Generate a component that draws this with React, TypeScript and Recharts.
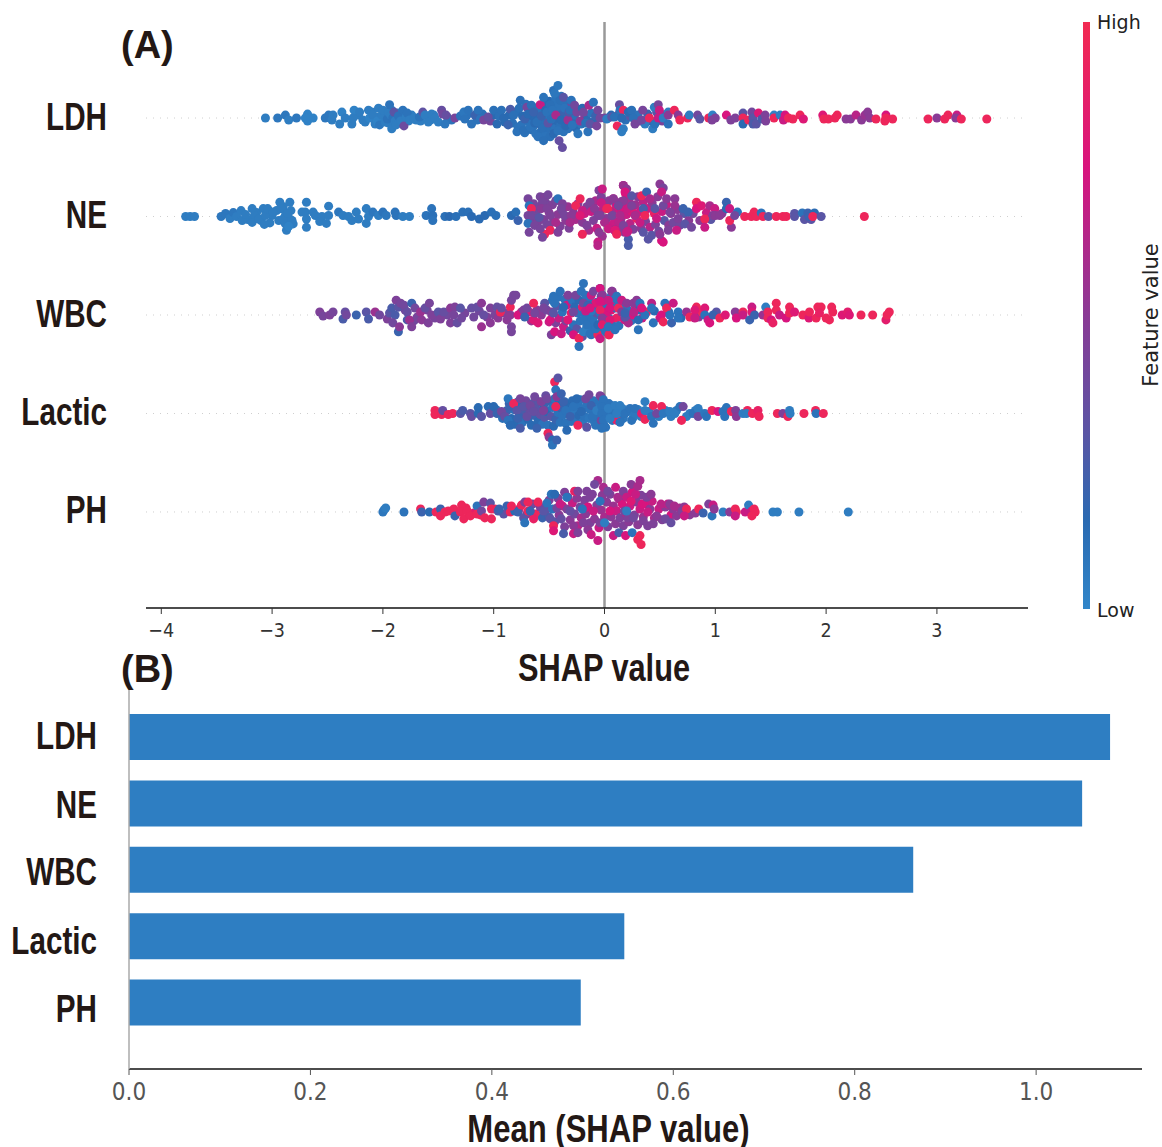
import { Bar, BarChart, Cell, ReferenceLine, Scatter, ScatterChart, XAxis, YAxis, ZAxis } from "recharts";

type Dot = [number, number, number]; // shap value, swarm offset (in rows), feature value 0..1

const features = ["LDH", "NE", "WBC", "Lactic", "PH"];
const meanShap = [1.0815, 1.0507, 0.8645, 0.546, 0.498];
const shapTicks = [-4, -3, -2, -1, 0, 1, 2, 3];
const meanTicks = [0, 0.2, 0.4, 0.6, 0.8, 1.0];

// the dense middle of each swarm, drawn first
const ldhCore: Dot[] = [
  [-2.22,.03,.05],[-2.16,-.04,.05],[-2.1,.06,.05],[-2.06,.01,.05],[-2.02,-.02,.02],[-1.99,.06,.05],[-1.97,.02,.05],[-1.95,-.05,.05],[-1.92,.08,.05],[-1.9,-.06,.05],[-1.87,.05,.05],[-1.85,.0,.05],[-1.83,-.05,.05],[-1.8,.04,.05],[-1.77,-.03,.05],[-1.74,.03,.05],
  [-1.7,-.02,.05],[-1.66,-.03,.05],[-1.6,.02,.05],[-1.57,-.02,.05],[-1.54,.03,.05],[-1.42,.01,.3],[-1.38,-.02,.1],[-1.24,.03,.1],[-1.15,-.02,.1],[-1.1,.04,.12],[-1.03,-.03,.4],[-.99,.03,.15],[-.9,-.04,.15],[-.86,.03,.15],[-.83,-.05,.12],[-.8,.06,.12],
  [-.78,-.09,.1],[-.77,.1,.12],[-.74,.02,.15],[-.72,-.15,.1],[-.71,.14,.1],[-.69,-.03,.1],[-.68,.07,.15],[-.66,-.12,.12],[-.65,.02,.15],[-.64,-.08,.1],[-.62,.1,.12],[-.62,-.16,.1],[-.6,.03,.15],[-.59,.12,.1],[-.58,-.06,.2],[-.57,-.13,.12],
  [-.56,.07,.1],[-.54,.16,.12],[-.54,-.03,.12],[-.53,-.17,.1],[-.52,.11,.15],[-.51,-.1,.12],[-.5,.02,.1],[-.5,.17,.15],[-.49,-.19,.12],[-.48,.08,.1],[-.47,-.06,.15],[-.46,.14,.1],[-.45,-.11,.1],[-.44,.2,.1],[-.43,.05,.12],[-.42,-.03,.15],
  [-.41,.12,.1],[-.4,-.08,.12],[-.39,.22,.1],[-.38,.04,.2],[-.37,-.14,.1],[-.36,.15,.12],[-.35,-.02,.1],[-.34,.09,.15],[-.33,-.11,.1],[-.31,.02,.3],[-.3,.12,.4],[-.29,-.04,.15],[-.27,.03,.12],[-.26,-.1,.15],[-.23,.08,.12],[-.21,-.06,.1],[-.18,.03,.45],[-.16,-.02,.15],[-.12,.05,.1],[-.09,-.03,.15],
  [.06,.03,.15],[.12,.03,.3],[.19,-.02,.12],[.23,.02,.3],[.3,.03,.1],[.32,-.03,.5],[.39,.04,.2],[.42,-.03,.2],[.47,.06,.3],[.52,-.03,.45],[.55,.03,.4],
];

const neCore: Dot[] = [
  [-3.22,-.03,.05],[-3.14,.04,.05],[-3.1,-.04,.05],[-3,.01,.05],[-2.96,.06,.05],[-2.94,-.04,.05],[-2.9,.1,.05],[-2.87,.03,.05],[-2.82,-.04,.05],[-2.86,-.06,.05],
  [-.67,-.03,.42],[-.64,.13,.42],[-.62,.05,.4],[-.6,-.05,.45],[-.58,.1,.42],[-.55,-.03,.45],[-.53,.14,.42],[-.52,-.08,.42],[-.5,.04,.5],[-.47,.12,.45],[-.46,-.05,.45],[-.44,.16,.42],[-.42,.02,.5],[-.4,-.1,.45],[-.38,.06,.42],[-.35,-.04,.5],[-.33,.1,.55],[-.32,-.12,.45],
  [-.28,.04,.5],[-.26,-.03,.6],[-.24,.13,.5],[-.2,-.06,.5],[-.18,.03,.7],[-.16,.1,.45],[-.14,-.14,.6],[-.12,.05,.7],[-.1,-.04,.45],[-.08,.16,.6],[-.07,-.12,.7],[-.04,.05,.6],[-.02,-.2,.55],[0,.1,.65],[.02,-.02,.5],[.04,.16,.5],[.05,-.1,.7],[.07,.05,.6],
  [.09,-.05,.7],[.1,.13,.4],[.12,-.12,.6],[.14,.06,.7],[.15,-.02,.55],[.17,.1,.75],[.18,-.16,.5],[.2,.02,.7],[.22,.16,.6],[.23,-.07,.65],[.25,.05,.8],[.26,-.13,.45],[.28,.12,.55],[.29,-.02,.9],[.3,.2,.5],[.32,.05,.7],[.33,-.12,.5],[.35,.15,.65],[.37,-.05,.45],[.39,.08,.7],
  [.41,-.11,.65],[.43,.14,.5],[.45,.03,.9],[.46,-.08,.45],[.48,.2,.5],[.49,-.15,.4],[.52,.05,.7],[.54,-.04,.3],[.56,.12,.7],[.58,-.09,.5],[.6,.03,.5],[.62,-.06,.4],[.66,.07,.5],[.68,-.09,.4],[.72,.03,.3],[.76,-.04,.5],[.8,.03,.4],[.86,-.04,.5],[.92,.04,.7],[.96,-.03,.3],[1.06,.03,.5],
];

const wbcCore: Dot[] = [
  [-1.8,.05,.4],[-1.72,-.06,.4],[-1.6,.05,.42],[-1.53,-.03,.42],[-1.42,0,.4],[-1.26,.02,.42],[-1.13,.04,.4],[-1.06,-.02,.45],[-.99,0,.42],[-.9,.02,.45],[-.88,-.05,.5],[-.75,.03,.6],[-.68,.03,.8],[-.66,-.06,.55],[-.61,.05,.5],[-.57,0,.5],[-.52,.05,.4],[-.5,-.07,.7],
  [-.48,.03,.45],[-.47,.15,.1],[-.44,-.08,.45],[-.43,.09,.3],[-.41,-.03,.7],[-.42,.18,.1],[-.38,.03,.1],[-.37,-.12,.7],[-.36,.16,.1],[-.35,-.06,.45],[-.34,.1,.7],[-.31,-.16,.2],[-.3,.02,.85],[-.29,.15,.1],[-.28,-.1,.1],[-.27,.08,.15],[-.25,-.14,.3],[-.24,.02,.1],[-.23,.15,.15],
  [-.22,-.06,.1],[-.2,.08,.85],[-.2,-.22,.3],[-.18,.02,.1],[-.17,.2,.1],[-.16,-.13,.05],[-.15,-.03,.1],[-.14,.14,.1],[-.12,-.2,.1],[-.12,.2,.7],[-.11,.08,.15],[-.1,-.12,.1],[-.09,-.01,.1],[-.07,.13,.1],[-.05,-.16,.1],[-.05,.05,.1],[-.03,-.08,.05],[-.02,.2,.1],[0,.06,.1],[.01,-.14,.1],[.03,.14,.85],[.04,-.03,.1],[.06,.19,.1],[.07,-.1,.1],
  [.09,.1,.7],[.11,-.03,.9],[.12,.15,.1],[.13,-.11,.1],[.16,.07,.1],[.18,-.05,.7],[.21,.05,.1],[.24,-.06,.1],[.28,.08,.8],[.31,.05,.15],[.34,-.03,.7],[.38,.03,.95],[.45,.04,.15],[.5,-.03,.7],[.58,.03,.1],[.69,-.03,.15],[.85,-.02,.5],[.88,.03,.95],
];

const lacticCore: Dot[] = [
  [-.98,.04,.1],[-.92,-.05,.12],[-.88,.03,.2],[-.86,.1,.2],[-.84,-.05,.15],[-.82,.04,.12],[-.81,-.11,.15],[-.78,.12,.25],[-.77,-.02,.2],[-.75,.07,.15],[-.74,-.09,.1],[-.72,.03,.25],[-.71,.13,.4],[-.69,-.06,.15],[-.68,.05,.35],[-.66,-.12,.15],[-.65,.1,.3],[-.63,-.02,.2],[-.62,.05,.3],[-.6,-.08,.15],[-.59,.12,.3],[-.58,-.01,.35],
  [-.56,-.11,.1],[-.55,.08,.2],[-.54,-.04,.3],[-.53,.18,.35],[-.52,.02,.15],[-.51,-.12,.1],[-.49,.12,.2],[-.48,-.03,.3],[-.47,.06,.1],[-.46,-.13,.15],[-.45,.15,.1],[-.44,-.06,.2],[-.42,.01,.1],[-.41,.1,.15],[-.4,-.09,.1],[-.39,.05,.2],[-.38,-.02,.1],[-.36,.12,.1],[-.35,-.1,.1],[-.33,.07,.15],[-.32,.02,.1],[-.3,-.08,.1],[-.29,.13,.15],[-.27,.01,.08],
  [-.26,-.06,.1],[-.24,.09,.1],[-.23,-.02,.15],[-.22,.14,.1],[-.2,-.09,.08],[-.19,.05,.1],[-.18,-.03,.1],[-.16,.11,.1],[-.14,-.05,.08],[-.13,.04,.1],[-.1,.13,.1],[-.09,-.09,.1],[-.06,.06,.08],[-.05,-.03,.1],[-.02,.1,.08],[-.01,-.1,.1],[.02,.03,.05],[.03,-.04,.08],[.06,.08,.1],[.07,-.07,.08],[.1,.03,.05],[.12,-.03,.08],[.16,.05,.05],[.17,-.05,.08],[.21,.02,.08],[.26,-.04,.05],
  [.3,.04,.05],[.33,-.03,.05],[.4,.02,.05],[.49,-.03,.05],[.55,.03,.05],[.6,-.03,.05],[.65,.03,.08],[.74,-.03,.05],[.82,.03,.05],[.87,0,.05],
];

const phCore: Dot[] = [
  [-1.25,.04,.95],[-1.18,-.01,.85],[-1.12,-.03,.95],[-.99,.03,.95],[-.91,-.02,.3],[-.87,.01,.4],[-.77,.03,.85],[-.7,-.02,.45],[-.65,.08,.4],[-.62,-.02,.95],[-.58,.05,.45],[-.56,-.06,.2],[-.53,.02,.4],[-.5,.12,.45],[-.5,-.05,.25],[-.47,.03,.1],[-.45,-.1,.3],[-.42,.14,.45],[-.41,-.03,.5],[-.38,.06,.7],
  [-.36,-.15,.45],[-.34,.03,.45],[-.33,.15,.4],[-.31,-.08,.5],[-.29,.09,.7],[-.27,-.02,.4],[-.25,.14,.5],[-.24,-.14,.65],[-.22,.05,.4],[-.21,-.06,.6],[-.18,.12,.45],[-.17,-.02,.5],[-.15,.05,.75],[-.13,-.11,.45],[-.11,.18,.45],[-.09,-.07,.5],[-.07,.07,.45],[-.05,-.16,.7],[-.03,.02,.55],[-.02,.17,.5],
  [0,-.05,.6],[.02,.1,.5],[.03,-.15,.45],[.05,.18,.45],[.06,-.05,.5],[.08,.06,.55],[.1,-.12,.5],[.11,.01,.7],[.13,.13,.6],[.14,-.06,.45],[.16,.08,.75],[.17,-.14,.45],[.19,.16,.45],[.2,-.02,.7],[.22,-.1,.5],[.23,.06,.7],[.25,.2,.75],[.27,-.03,.45],[.29,.1,.5],[.3,-.13,.5],[.32,.03,.7],[.33,.17,.45],[.35,-.05,.55],[.37,.08,.75],[.39,-.14,.45],[.41,.03,.5],[.43,.11,.7],[.45,-.06,.6],
  [.49,.03,.7],[.52,-.08,.45],[.55,.05,.5],[.6,-.03,.75],[.62,.03,.5],[.68,.04,.6],[.72,.05,.5],[.77,-.03,.5],
];

const ldhDots: Dot[] = [
  [-3.06,0,.05],[-2.95,0,.08],[-2.88,.03,.08],[-2.85,-.02,.05],[-2.78,0,.08],[-2.68,.04,.02],[-2.68,-.03,.02],[-2.63,0,.02],[-2.66,0,.02],[-2.7,0,.02],
  [-2.52,0,.08],[-2.49,.03,.08],[-2.45,.03,.05],[-2.46,-.02,.05],[-2.39,-.06,.05],[-2.37,.06,.02],[-2.34,0,.05],[-2.28,-.06,.05],[-2.26,.08,.02],[-2.27,0,.05],
  [-2.21,.06,.05],[-2.18,-.02,.05],[-2.13,.08,.05],[-2.12,0,.02],[-2.09,.03,.05],[-2.07,-.06,.05],[-2.05,-.03,.02],[-2.04,.1,.05],[-2.03,-.07,.08],[-2.01,.03,.05],[-2,.08,.05],
  [-1.98,-.04,.05],[-1.96,-.01,.1],[-1.95,.06,.05],[-1.94,.135,.1],[-1.93,.03,.05],[-1.92,-.11,.05],[-1.91,0,.1],[-1.9,.06,.3],[-1.89,-.03,.05],[-1.88,-.07,.05],[-1.86,.02,.1],[-1.84,-.03,.05],
  [-1.82,.08,.1],[-1.81,-.08,.38],[-1.79,.01,.05],[-1.78,.05,.1],[-1.76,-.02,.05],[-1.72,0,.05],[-1.67,.01,.1],[-1.64,.06,.32],[-1.62,.03,.05],[-1.59,-.04,.05],[-1.56,.04,.05],[-1.53,0,.05],[-1.5,-.04,.05],
  [-1.47,.08,.35],[-1.46,.04,.4],[-1.43,.03,.35],[-1.44,-.06,.08],[-1.35,0,.42],[-1.3,.02,.1],[-1.27,.06,.08],[-1.26,-.01,.1],[-1.23,.08,.1],[-1.2,-.06,.1],[-1.17,.03,.2],[-1.14,.08,.1],[-1.12,-.01,.1],
  [-1.09,-.02,.42],[-1.05,.01,.35],[-1,.08,.12],[-.97,-.06,.15],[-.95,.02,.12],[-.93,.08,.12],[-.91,0,.15],[-.87,-.07,.2],[-.85,.09,.25],[-.82,.03,.12],
  [-.79,-.14,.1],[-.76,.18,.12],[-.75,-.07,.1],[-.73,-.125,.12],[-.72,-.01,.2],[-.7,.11,.4],[-.69,.04,.15],[-.67,-.09,.1],[-.66,.13,.12],[-.64,.06,.2],[-.63,-.05,.15],[-.61,-.04,.12],[-.6,-.19,.1],
  [-.58,.135,.7],[-.57,.02,.2],[-.56,-.1,.12],[-.55,.21,.1],[-.55,-.23,.12],[-.53,.08,.15],[-.52,.06,.1],[-.51,-.05,.3],[-.49,.135,.12],[-.48,-.01,.12],[-.47,.08,.1],[-.46,.28,.12],[-.46,-.16,.15],
  [-.45,.25,.08],[-.44,.03,.6],[-.42,.33,.08],[-.42,-.13,.1],[-.41,-.23,.35],[-.4,.18,.12],[-.39,-.02,.15],[-.38,-.3,.35],[-.37,.21,.3],[-.36,.1,.1],[-.35,-.08,.15],[-.33,-.02,.55],[-.32,.06,.25],
  [-.3,.18,.1],[-.31,.08,.12],[-.29,-.07,.1],[-.27,.13,.4],[-.25,.06,.42],[-.24,-.16,.08],[-.22,-.03,.5],[-.2,.1,.15],[-.19,.06,.4],[-.17,-.05,.12],[-.15,-.14,.1],[-.14,.13,.6],[-.13,-.06,.3],[-.1,.16,.1],[-.08,.02,.2],
  [-.07,-.08,.42],[-.06,.08,.4],[-.04,0,.4],[.03,0,.1],[0,0,.42],[.02,-.01,.05],[.065,.01,.3],[.09,.01,.12],[.115,-.08,.95],[.135,.135,.35],[.14,.08,.1],[.17,.08,.95],[.17,-.11,.05],[.155,-.14,.05],[.155,0,.15],
  [.215,.06,.15],[.245,.08,.12],[.26,0,.12],[.275,-.06,.42],[.345,.08,.42],[.365,-.06,.05],[.335,-.02,.4],[.405,0,.95],[.45,.11,.05],[.485,.135,.42],[.495,.08,.7],[.435,-.11,.05],[.455,-.06,.1],[.485,0,.7],
  [.53,0,.05],[.575,.06,.05],[.575,-.06,.1],[.575,.03,.5],[.63,.08,.95],[.665,.03,.5],[.68,-.02,.95],[.75,0,.95],[.765,.03,.05],[.84,.03,.4],[.86,-.01,.3],[.94,0,.95],[.975,.03,.02],[1,0,.45],[.97,-.02,.45],
  [1.1,.03,.75],[1.14,-.02,.45],[1.18,0,.45],[1.25,.05,.3],[1.25,0,.95],[1.25,-.06,.15],[1.3,-.02,.95],[1.33,.06,.4],[1.34,0,.3],[1.34,-.06,.25],[1.37,-.06,.3],[1.39,.05,.8],[1.42,-.01,.25],[1.45,.03,.45],[1.455,-.03,.45],
  [1.53,.03,.02],[1.53,0,.95],[1.585,.03,.05],[1.615,-.02,.7],[1.63,.03,.75],[1.66,0,.95],[1.7,-.01,.95],[1.765,.03,.95],[1.795,-.01,.8],[1.97,.03,.8],[1.98,-.01,.95],[2.02,-.01,.95],[2.08,0,.95],[2.1,.03,.95],
  [2.18,-.01,.5],[2.22,-.01,.5],[2.27,.03,.65],[2.32,-.02,.5],[2.35,.03,.55],[2.375,.06,.5],[2.395,0,.5],[2.45,-.01,.95],[2.54,.03,.75],[2.54,0,.95],[2.53,-.03,.95],[2.6,-.01,.95],[2.92,-.01,.95],[3,0,.5],[3.07,-.01,.95],[3.1,.03,.95],[3.18,.03,.7],[3.17,0,.5],[3.22,-.01,.95],[3.45,-.01,.95],
];

const neDots: Dot[] = [
  [-3.78,0,.05],[-3.74,0,.05],[-3.7,0,.05],[-3.46,0,.08],[-3.42,.03,.08],[-3.38,-.02,.05],[-3.35,.04,.08],[-3.32,0,.05],[-3.28,.06,.05],[-3.27,-.04,.05],[-3.24,.02,.05],
  [-3.18,.08,.05],[-3.16,.01,.05],[-3.18,-.06,.05],[-3.12,-.025,.05],[-3.08,.08,.05],[-3.06,.01,.05],[-3.04,.08,.05],[-3.02,-.065,.05],[-2.99,.045,.05],[-3.07,-.08,.05],
  [-2.93,.145,.05],[-2.92,.08,.05],[-2.88,.01,.05],[-2.88,-.075,.05],[-2.87,-.14,.05],[-2.84,.145,.05],[-2.83,.06,.05],[-2.84,-.025,.05],[-2.81,-.075,.05],[-2.9,-.025,.05],[-2.86,.03,.05],[-2.85,-.1,.02],
  [-2.69,.145,.05],[-2.7,.045,.05],[-2.73,.045,.05],[-2.69,-.025,.05],[-2.69,-.11,.05],[-2.63,.045,.05],[-2.61,.01,.05],[-2.55,0,.05],[-2.57,-.05,.05],[-2.49,.105,.05],[-2.49,.01,.05],[-2.51,-.07,.05],
  [-2.4,.045,.08],[-2.36,.01,.05],[-2.31,0,.05],[-2.28,-.04,.05],[-2.24,.045,.05],[-2.22,-.025,.05],[-2.15,.08,.05],[-2.13,0,.05],[-2.15,-.07,.05],[-2.09,.045,.08],[-2.04,.01,.05],[-2,.045,.1],[-1.97,.01,.08],[-1.89,.045,.1],[-1.88,.01,.1],[-1.82,0,.05],[-1.76,0,.05],
  [-1.61,.01,.1],[-1.56,.08,.1],[-1.55,.01,.12],[-1.55,-.04,.1],[-1.44,0,.12],[-1.4,0,.15],[-1.34,0,.12],[-1.28,.045,.12],[-1.23,.045,.12],[-1.2,0,.15],[-1.13,-.025,.15],[-1.08,.01,.15],[-1.02,.045,.12],[-.98,.01,.12],[-.84,.01,.15],[-.8,.045,.12],[-.78,-.04,.2],
  [-.69,.18,.42],[-.68,.11,.1],[-.66,.08,.95],[-.69,.01,.42],[-.65,.01,.4],[-.69,-.07,.1],[-.68,-.16,.42],[-.63,-.09,.42],[-.58,.2,.42],[-.54,.195,.45],[-.51,.22,.42],[-.56,.145,.42],[-.57,.08,.5],[-.52,.08,.45],[-.49,.01,.45],[-.59,-.01,.3],[-.5,-.09,.42],
  [-.44,-.06,.6],[-.42,.18,.1],[-.38,.13,.45],[-.39,.08,.42],[-.36,.01,.42],[-.54,-.18,.95],[-.49,-.14,.95],[-.56,-.21,.42],[-.58,-.125,.42],[-.42,-.16,.45],[-.3,.01,.5],[-.31,-.06,.6],
  [-.22,.18,.95],[-.26,.11,.95],[-.2,.06,.7],[-.22,.01,.8],[-.16,-.09,.45],[-.2,-.18,.95],[-.13,.145,.45],[-.05,.265,.45],[-.03,.195,.45],[-.09,.08,.5],[-.06,.01,.45],[.03,.08,.95],[0,-.06,.6],[-.05,-.16,.5],[-.06,-.26,.7],[-.06,-.295,.65],
  [.08,.18,.7],[.11,.11,.75],[.07,.01,.42],[.13,-.06,.65],[.09,-.14,.45],[.17,.315,.7],[.19,.23,.75],[.15,.15,.5],[.21,.08,.7],[.17,-.09,.45],[.21,-.15,.7],[-.02,.28,.7],
  [-.03,.14,.7],[-.04,.01,.45],[.02,.08,.95],[.035,-.125,.7],[.095,-.14,.8],[.11,-.18,.95],[.08,.18,.5],[.17,.315,.55],[.2,.28,.5],[.185,.25,.75],[.17,.16,.5],[.125,.11,.42],[.14,.01,.6],
  [.215,-.23,.25],[.215,-.295,.25],[.2,-.16,.7],[.245,.21,.3],[.245,.11,.45],[.275,.01,.6],[.335,.21,.95],[.35,.08,.25],[.32,-.06,.7],[.35,-.16,.3],[.395,-.23,.3],[.425,-.19,.3],[.38,.25,.2],[.41,.18,.6],[.455,.08,.3],[.365,.01,.95],[.47,-.02,.7],
  [.515,-.245,.75],[.53,-.26,.75],[.5,.33,.5],[.53,.29,.42],[.515,.25,.7],[.53,.11,.4],[.5,-.18,.5],[.575,-.14,.45],[.56,.18,.5],[.635,.18,.5],[.635,.11,.55],[.59,.045,.45],[.665,-.02,.45],[.65,-.14,.7],[.71,.08,.2],[.755,.045,.2],[.725,-.075,.3],[.785,-.11,.4],
  [.83,.145,.95],[.83,.08,.75],[.875,.11,.8],[.905,-.025,.95],[.905,-.11,.7],[.95,.11,.6],[.995,.08,.7],[.98,.01,.45],[1,.01,.5],[1.04,.01,.5],[1.1,.145,.2],[1.1,.08,.15],[1.13,.08,.7],[1.145,-.11,.5],[1.13,-.04,.95],[1.2,.045,.1],[1.175,.01,.4],
  [1.265,0,.95],[1.325,0,.95],[1.35,.045,.95],[1.37,0,.95],[1.415,.035,.1],[1.43,0,.95],[1.48,0,.3],[1.55,0,.95],[1.61,0,.95],[1.64,0,.95],[1.715,.03,.3],[1.715,0,.3],[1.785,.035,.1],[1.805,-.03,.3],[1.835,.035,.2],[1.865,-.03,.3],[1.845,0,.2],[1.895,.035,.15],[1.88,0,.95],[1.955,0,.3],[2.345,0,.95],
];

const wbcDots: Dot[] = [
  [-2.57,.03,.45],[-2.54,-.01,.42],[-2.48,0,.45],[-2.45,.03,.42],[-2.34,.03,.35],[-2.36,-.04,.25],[-2.33,0,.4],[-2.24,0,.2],[-2.15,.03,.3],[-2.13,-.04,.25],[-2.07,.03,.55],[-2.03,0,.4],[-1.96,-.04,.45],[-1.94,.02,.3],[-1.92,.07,.25],[-1.88,.15,.45],[-1.86,.08,.3],
  [-1.89,0,.25],[-1.91,-.08,.4],[-1.86,-.17,.2],[-1.85,-.12,.5],[-1.84,.12,.42],[-1.81,.1,.4],[-1.78,.03,.35],[-1.78,-.05,.25],[-1.74,.12,.2],[-1.76,-.05,.55],[-1.74,-.12,.45],[-1.71,.07,.4],[-1.69,-.02,.42],[-1.66,.03,.55],[-1.65,-.05,.5],[-1.62,.07,.35],[-1.59,-.08,.45],[-1.58,.12,.42],[-1.56,0,.45],
  [-1.5,.03,.3],[-1.48,-.04,.45],[-1.45,.03,.35],[-1.39,.07,.5],[-1.39,-.08,.45],[-1.35,.08,.45],[-1.36,0,.42],[-1.33,-.08,.35],[-1.3,.07,.3],[-1.29,-.03,.4],[-1.2,.07,.35],[-1.18,-.02,.4],[-1.15,.08,.35],[-1.11,.12,.5],[-1.11,-.12,.55],[-1.09,0,.35],
  [-1.03,.07,.45],[-1.03,-.08,.5],[-.97,.08,.35],[-.96,-.03,.5],[-.94,.03,.95],[-.93,.07,.35],[-.85,.08,.95],[-.84,.15,.42],[-.82,.2,.42],[-.8,.2,.42],[-.84,-.12,.42],[-.84,-.17,.42],[-.85,0,.5],[-.78,0,.75],[-.73,.05,.45],[-.7,.07,.4],[-.72,-.02,.2],
  [-.64,.12,.95],[-.64,-.05,.8],[-.6,-.08,.8],[-.63,.02,.42],[-.54,.12,.3],[-.55,.07,.42],[-.48,-.2,.45],[-.49,-.05,.75],[-.45,.12,.1],[-.45,-.17,.75],[-.46,.02,.3],[-.46,.19,.1],[-.39,-.19,.7],[-.4,.24,.1],[-.37,.08,.15],[-.33,.2,.45],[-.33,-.05,.8],[-.28,-.2,.75],[-.28,.03,.4],[-.26,.2,.42],
  [-.23,-.24,.95],[-.23,-.32,.1],[-.19,.32,.1],[-.21,.24,.1],[-.19,.12,.4],[-.19,-.05,.1],[-.19,-.17,.05],[-.13,-.19,.1],[-.1,.24,.42],[-.08,.12,.8],[-.07,.02,.3],[-.06,-.2,.95],[-.04,.27,.1],[-.03,.19,.35],[0,.12,.1],[.03,-.05,.1],[.04,-.2,.95],[.07,.24,.5],[.06,.05,.8],[.1,.17,.1],[.1,.07,.1],[.1,-.13,.1],
  [-.12,.04,.08],[-.1,-.08,.1],[-.08,-.14,.1],[-.15,.1,.2],[-.02,-.03,.1],[-.01,.09,.1],[-.04,.02,.1],[-.06,-.1,.15],[.01,-.08,.05],[-.16,-.1,.1],[-.17,.04,.7],[-.13,.07,.75],[.02,.03,.75],[-.02,.14,.7],
  [-.04,.27,.75],[-.02,.2,.5],[-.04,.14,.75],[-.04,.05,.9],[-.02,-.03,.5],[-.02,-.1,.85],[-.04,-.24,.7],[.01,-.17,.1],[.04,-.2,.95],[.065,.24,.5],[.11,.19,.1],[.035,.15,.7],[.05,.07,.75],[.125,.07,.95],[.05,-.05,.8],[.035,-.12,.1],[.095,-.15,.1],
  [.155,.15,.7],[.2,.12,.5],[.26,.12,.5],[.29,.15,.5],[.32,.12,.1],[.155,.03,.5],[.2,-.03,.1],[.26,0,.75],[.215,-.08,.6],[.185,-.02,.3],[.305,-.05,.15],[.305,-.15,.1],[.185,.02,.2],[.265,.03,.65],[.365,0,.1],[.335,.07,.75],
  [.425,.12,.65],[.425,.07,.1],[.44,-.08,.1],[.515,0,.75],[.545,.12,.1],[.56,.07,.95],[.53,-.07,.95],[.605,-.08,.2],[.62,.12,.7],[.59,0,.1],[.665,.03,.1],[.665,-.03,.1],[.74,.03,.55],[.77,-.02,.95],[.83,.08,.95],[.815,.05,.8],[.815,-.03,.7],[.905,.07,.8],[.905,0,.1],[.935,-.05,.7],[.95,-.08,.75],
  [1.01,.03,.3],[.98,0,.2],[1.04,-.03,.95],[1.09,0,.8],[1.18,.03,.5],[1.19,-.03,.75],[1.25,.03,.95],[1.25,0,.7],[1.33,.08,.7],[1.33,.03,.8],[1.31,-.05,.2],[1.355,0,.2],[1.43,0,.55],[1.455,.08,.05],[1.475,.03,.95],[1.475,-.03,.95],[1.505,-.05,.75],[1.52,-.08,.9],
  [1.55,.12,.95],[1.55,.05,.95],[1.58,0,.7],[1.64,-.03,.75],[1.67,.08,.95],[1.67,.02,.95],[1.715,.03,.8],[1.79,0,.95],[1.845,-.03,.8],[1.85,.03,.95],[1.91,-.03,.95],[1.925,.08,.95],[1.955,.08,.95],[1.94,.02,.9],[2,-.03,.95],[2.03,-.05,.95],[2.05,.08,.95],[2.06,.03,.95],
  [2.145,0,.8],[2.195,.03,.85],[2.21,0,.8],[2.315,0,.95],[2.42,0,.95],[2.54,-.05,.85],[2.55,0,.95],[2.57,.03,.95],
];

const lacticDots: Dot[] = [
  [-1.53,.03,.95],[-1.53,-.01,.95],[-1.47,-.01,.95],[-1.46,.03,.35],[-1.41,-.01,.95],[-1.37,0,.95],[-1.3,0,.3],[-1.28,.03,.25],[-1.21,0,.3],[-1.2,-.03,.35],[-1.14,.06,.15],[-1.14,0,.15],[-1.11,-.03,.3],[-1.05,.07,.15],[-1.03,0,.35],[-1,.07,.15],
  [-.97,0,.2],[-.93,.02,.4],[-.9,-.03,.35],[-.87,.15,.08],[-.85,.07,.2],[-.87,-.07,.1],[-.85,-.12,.15],[-.82,.1,.95],[-.79,.03,.3],[-.78,-.05,.2],[-.76,-.15,.25],[-.76,.15,.42],[-.73,.07,.3],[-.7,-.03,.35],[-.67,.08,.4],[-.63,.17,.4],[-.64,.02,.35],[-.61,-.15,.2],
  [-.57,.12,.45],[-.55,.03,.45],[-.52,.15,.4],[-.51,-.2,.95],[-.5,-.24,.5],[-.47,-.27,.15],[-.47,-.32,.1],[-.43,-.27,.2],[-.45,.32,.95],[-.42,.36,.3],[-.44,.24,.1],[-.44,.07,.95],[-.43,.17,.5],[-.39,.2,.2],[-.37,.12,.2],[-.35,.03,.1],[-.34,-.17,.15],[-.31,-.03,.2],[-.28,.07,.1],[-.25,.15,.15],
  [-.24,-.12,.95],[-.21,.02,.15],[-.17,.15,.4],[-.14,.19,.4],[-.16,-.14,.3],[-.12,.08,.2],[-.11,-.03,.1],[-.08,-.12,.1],[-.07,.03,.05],[-.04,.12,.1],[-.03,-.07,.4],[-.03,.17,.45],[0,.03,.1],[.01,-.14,.1],[.04,.1,.1],[.08,0,.1],[.14,-.07,.1],[.11,-.07,.9],
  [-.04,.18,.45],[-.01,.14,.1],[-.025,.07,.1],[-.025,0,.1],[-.01,-.07,.1],[-.025,-.15,.1],[.035,.05,.05],[.05,-.05,.05],[.095,.08,.05],[.11,0,.05],[.14,.08,.05],[.14,-.09,.1],[.185,0,.1],[.245,-.07,.1],[.23,.05,.1],[.275,0,.08],[.275,.05,.1],
  [.335,0,.85],[.365,.12,.05],[.365,.03,.05],[.365,-.06,.95],[.425,-.03,.1],[.44,.08,.95],[.44,-.1,.1],[.47,0,.4],[.515,.07,.95],[.53,0,.08],[.59,.02,.05],[.635,0,.05],[.68,.07,.1],[.695,-.07,.95],[.71,.07,.4],[.77,0,.05],[.8,0,.1],[.845,.05,.05],[.845,-.03,.4],[.905,0,.08],[.92,-.03,.1],
  [.97,.03,.95],[1.025,.02,.75],[1.07,.02,.1],[1.1,.06,.1],[1.085,-.03,.1],[1.145,.02,.95],[1.184,.03,.45],[1.19,-.03,.5],[1.25,0,.05],[1.29,.03,.95],[1.28,0,.05],[1.335,0,.95],[1.385,.03,.9],[1.395,-.03,.95],[1.56,0,.95],[1.61,0,.45],[1.655,-.03,.95],[1.67,.03,.05],[1.675,0,.05],[1.8,0,.95],[1.905,.03,.95],[1.91,0,.1],[1.975,0,.95],
];

const phDots: Dot[] = [
  [-2,0,.08],[-1.99,.02,.08],[-1.975,.04,.05],[-1.81,0,.1],[-1.66,.03,.95],[-1.65,0,.2],[-1.58,0,.15],[-1.52,0,.95],[-1.48,.03,.2],[-1.48,-.04,.95],[-1.44,0,.95],[-1.41,.01,.95],[-1.36,.03,.95],[-1.35,-.04,.2],[-1.29,.07,.95],[-1.3,0,.95],[-1.27,-.07,.95],[-1.24,.01,.95],[-1.21,-.04,.95],
  [-1.15,.06,.1],[-1.15,-.02,.95],[-1.11,.01,.4],[-1.09,.1,.45],[-1.08,-.06,.95],[-1.03,.09,.3],[-1.02,.03,.95],[-1.02,-.07,.95],[-.96,.01,.25],[-.95,.03,.2],[-.88,.06,.2],[-.85,0,.95],[-.81,.01,.15],[-.84,.06,.95],[-.78,0,.2],[-.75,.07,.95],[-.72,.1,.45],
  [-.73,-.06,.3],[-.72,-.11,.1],[-.69,.1,.95],[-.69,.01,.95],[-.64,-.07,.9],[-.67,.01,.2],[-.6,.1,.95],[-.55,.01,.3],[-.52,.09,.1],[-.49,-.07,.3],[-.48,.18,.1],[-.46,-.14,.95],[-.45,.18,.15],[-.46,-.19,.8],[-.43,.04,.4],[-.4,.08,.7],[-.39,-.07,.35],[-.36,.2,.45],
  [-.37,-.22,.25],[-.34,.15,.1],[-.31,.01,.35],[-.28,-.14,.5],[-.28,-.22,.7],[-.27,.21,.9],[-.24,.21,.45],[-.24,-.21,.45],[-.2,.03,.1],[-.19,-.11,.45],[-.16,.21,.45],[-.13,.15,.45],[-.15,-.18,.5],[-.1,.01,.7],[-.12,-.23,.7],[-.06,-.29,.7],[-.06,.32,.6],[-.09,.28,.4],
  [-.04,-.11,.45],[-.04,.11,.1],[0,-.11,.05],[-.01,.25,.6],[.03,.21,.4],[.05,.01,.75],[.08,-.24,.7],[.1,.25,.7],[.12,.15,.6],[.13,-.21,.25],[.17,.21,.45],[.18,.01,.4],[.19,-.24,.75],[.2,.15,.7],[.21,-.06,.45],[.24,.28,.5],[.24,.11,.8],[.25,-.21,.1],
  [.2,.01,.05],[.3,-.28,.95],[.28,.18,.7],[.26,-.06,.4],[.33,-.33,.95],[.32,.32,.6],[.3,.26,.6],[.32,-.24,.95],[.34,.08,.75],[.35,-.09,.45],[.38,.15,.45],[.39,0,.7],[.42,.18,.5],[.44,-.12,.45],[.47,-.04,.5],[.51,.08,.65],
  [.55,-.07,.4],[.57,.08,.65],[.59,.08,.5],[.6,-.11,.35],[.63,.06,.6],[.65,-.04,.5],[.7,.01,.45],[.74,.03,.95],[.72,-.04,.7],[.82,-.01,.5],[.85,.03,.95],[.89,-.01,.2],[.94,.08,.45],[.97,-.04,.1],[.98,.07,.7],[.99,.03,.5],
  [1.07,0,.05],[1.13,0,.5],[1.18,.03,.95],[1.19,0,.95],[1.18,-.04,.7],[1.27,0,.7],[1.3,.07,.05],[1.33,.01,.7],[1.35,.03,.95],[1.36,0,.95],[1.33,-.04,.95],[1.52,0,.05],[1.56,0,.05],[1.755,0,.05],[2.2,0,.05],
];

const rows: Dot[][] = [
  [...phCore, ...phDots],
  [...lacticCore, ...lacticDots],
  [...wbcCore, ...wbcDots],
  [...neCore, ...neDots],
  [...ldhCore, ...ldhDots],
];

const colorStops: [number, number[]][] = [
  [0, [49, 134, 201]],
  [0.15, [42, 106, 178]],
  [0.3, [90, 85, 165]],
  [0.5, [138, 58, 149]],
  [0.75, [216, 20, 126]],
  [1, [242, 42, 82]],
];

function featureColor(t: number) {
  for (let i = 1; i < colorStops.length; i++) {
    const [t1, c1] = colorStops[i];
    const [t0, c0] = colorStops[i - 1];
    if (t <= t1) {
      const k = (t - t0) / (t1 - t0);
      const c = c0.map((v, j) => Math.round(v + (c1[j] - v) * k));
      return `rgb(${c.join(",")})`;
    }
  }
  return "rgb(242,42,82)";
}

const boldFont = "'Liberation Sans', sans-serif";
const tickFont = "'DejaVu Sans', sans-serif";
const ink = "#231815";

// the reference labels are a narrow bold face, so squeeze the bold sans
function NarrowLabel({ x, y, text, anchor = "end", scale = 0.78 }: { x: number; y: number; text: string; anchor?: string; scale?: number }) {
  return (
    <text transform={`translate(${x},${y}) scale(${scale},1)`} textAnchor={anchor} fontFamily={boldFont} fontWeight={700} fontSize={38} fill={ink}>
      {text}
    </text>
  );
}

// baseline drop under each bar centre in panel B
const barLabelDrop = [12, 14, 15, 18, 19];

const absText = (left: number, top: number, text: string, style: React.CSSProperties) => (
  <div style={{ position: "absolute", left, top, whiteSpace: "nowrap", lineHeight: 1, ...style }}>{text}</div>
);

export default function App() {
  return (
    <div style={{ position: "absolute", left: 0, top: 0, width: 1162, height: 1147, background: "#fff", overflow: "hidden" }}>
      <div style={{ position: "absolute", left: 0, top: 0 }}>
        <ScatterChart width={1162} height={690} margin={{ top: 22, right: 134, bottom: 0, left: 0 }}>
          <XAxis
            type="number"
            dataKey="x"
            domain={[-4.138, 3.822]}
            ticks={shapTicks}
            allowDataOverflow
            height={82}
            tickSize={6}
            tickMargin={9}
            interval={0}
            tickFormatter={(v: number) => String(v).replace("-", "\u2212")}
            axisLine={{ stroke: "#111", strokeWidth: 1.5 }}
            tickLine={{ stroke: "#333" }}
            tick={{ fontFamily: tickFont, fontSize: 19.5, fill: "#333", style: { fontStretch: "condensed" } }}
          />
          <YAxis
            type="number"
            dataKey="y"
            domain={[-0.975, 4.975]}
            ticks={[0, 1, 2, 3, 4]}
            width={146}
            axisLine={false}
            tickLine={false}
            tickSize={0}
            tickMargin={39}
            interval={0}
            tick={(p: any) => <NarrowLabel x={p.x} y={p.y + 11.5} text={features[4 - p.payload.value]} />}
          />
          <ZAxis range={[50, 50]} />
          {[0, 1, 2, 3, 4].map((r) => (
            <ReferenceLine key={r} y={r} stroke="#cfcfcf" strokeDasharray="1 6" />
          ))}
          {rows.map((dots, r) => (
            <Scatter
              key={features[4 - r]}
              isAnimationActive={false}
              data={dots.map(([x, off, f]) => ({ x, y: r + off, f }))}
            >
              {dots.map((d, i) => (
                <Cell key={i} fill={featureColor(d[2])} />
              ))}
            </Scatter>
          ))}
          <ReferenceLine x={0} stroke="#999" strokeWidth={2.5} />
        </ScatterChart>
      </div>

      <div style={{ position: "absolute", left: 0, top: 680 }}>
        <BarChart
          width={1162}
          height={467}
          layout="vertical"
          data={features.map((name, i) => ({ name, value: meanShap[i] }))}
          margin={{ top: 10, right: 20, bottom: 0, left: 0 }}
        >
          <XAxis
            type="number"
            domain={[0, 1.1167]}
            ticks={meanTicks}
            allowDataOverflow
            height={78}
            tickSize={6}
            tickMargin={8}
            interval={0}
            tickFormatter={(v: number) => v.toFixed(1)}
            axisLine={{ stroke: "#111", strokeWidth: 1.5 }}
            tickLine={{ stroke: "#555" }}
            tick={{ fontFamily: tickFont, fontSize: 24, fill: "#555", style: { fontStretch: "condensed" } }}
          />
          <YAxis
            type="category"
            dataKey="name"
            width={129}
            padding={{ top: 14, bottom: 33 }}
            axisLine={{ stroke: "#aaa", strokeWidth: 1.5 }}
            tickLine={false}
            tickSize={0}
            tickMargin={32}
            interval={0}
            tick={(p: any) => <NarrowLabel x={p.x} y={p.y + barLabelDrop[p.index]} text={p.payload.value} />}
          />
          <Bar dataKey="value" fill="#2e7ec2" barSize={46} isAnimationActive={false} />
        </BarChart>
      </div>

      {absText(121, 26, "(A)", { fontFamily: boldFont, fontWeight: 700, fontSize: 38, color: ink })}
      {absText(121, 650, "(B)", { fontFamily: boldFont, fontWeight: 700, fontSize: 38, color: ink })}

      <svg style={{ position: "absolute", left: 0, top: 0, pointerEvents: "none" }} width={1162} height={1147}>
        <NarrowLabel x={604} y={681} text="SHAP value" anchor="middle" scale={0.81} />
        <NarrowLabel x={608.5} y={1142} text="Mean (SHAP value)" anchor="middle" scale={0.817} />
      </svg>

      <div
        style={{
          position: "absolute",
          left: 1083,
          top: 22,
          width: 7,
          height: 587,
          background: "linear-gradient(to top, #3186c9 0%, #2a6ab2 15%, #5a55a5 30%, #8a3a95 50%, #d8147e 75%, #f22a52 100%)",
        }}
      />
      {absText(1097, 13, "High", { fontFamily: tickFont, fontSize: 19, color: "#222" })}
      {absText(1097, 601, "Low", { fontFamily: tickFont, fontSize: 19, color: "#222" })}
      <svg style={{ position: "absolute", left: 1130, top: 230 }} width={32} height={170}>
        <text x={0} y={0} transform="translate(28,85) rotate(-90)" textAnchor="middle" fontFamily={tickFont} fontSize={21} fill="#222">
          Feature value
        </text>
      </svg>
    </div>
  );
}
